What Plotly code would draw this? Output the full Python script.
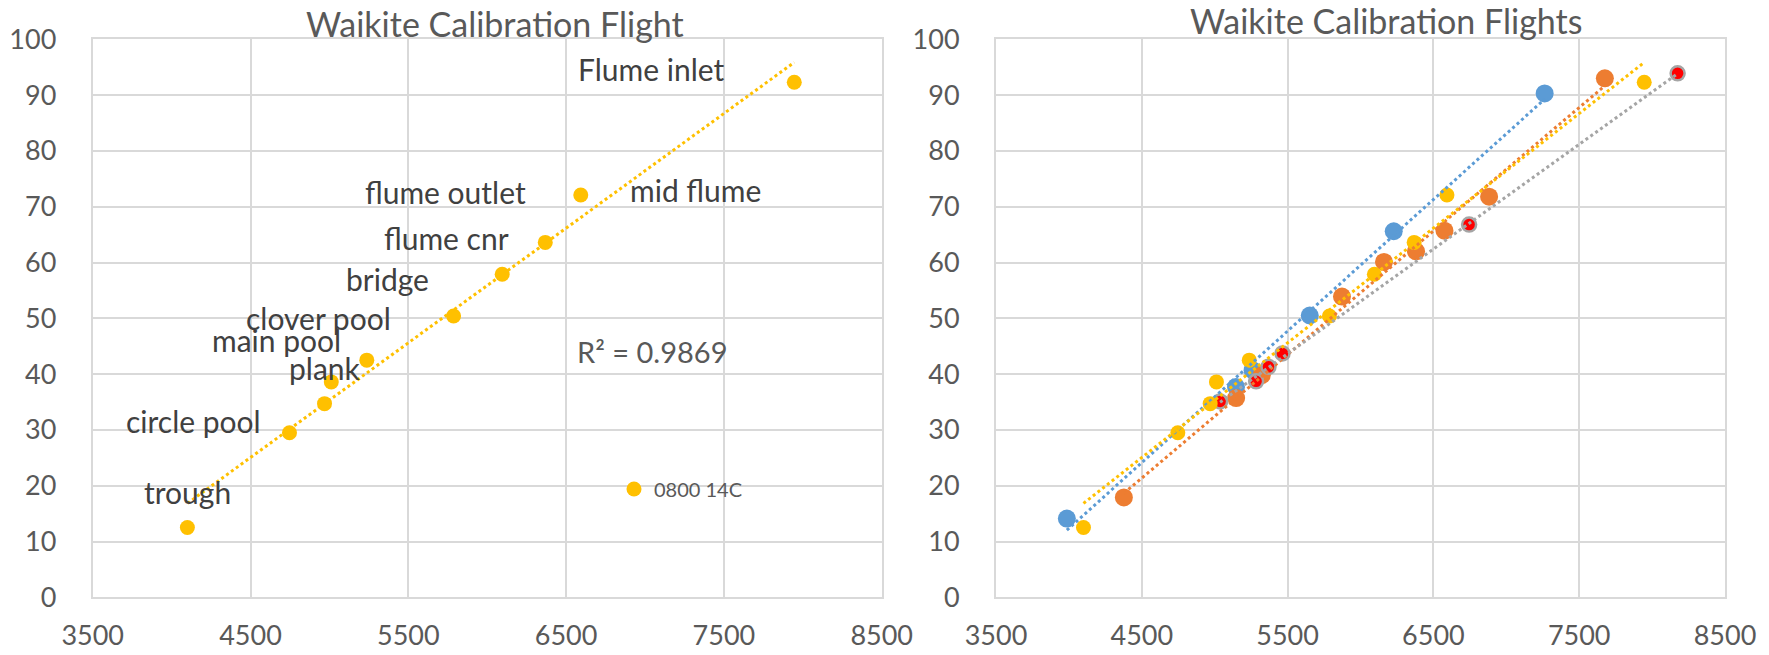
import numpy as np
import plotly.graph_objects as go

# ---------------- data ----------------
labels = ["trough", "circle pool", "plank", "main pool", "clover pool", "bridge",
          "flume cnr", "flume outlet", "mid flume", "Flume inlet"]
yellow_x = [4100, 4747, 4969, 5012, 5237, 5787, 6095, 6368, 6593, 7946]
yellow_y = [12.5, 29.5, 34.7, 38.6, 42.5, 50.4, 57.9, 63.6, 72.1, 92.3]

blue_x = [3986, 5146, 5260, 5652, 6228, 7263]
blue_y = [14.1, 37.7, 40.7, 50.5, 65.6, 90.3]

orange_x = [4377, 5147, 5323, 5873, 6161, 6381, 6576, 6882, 7676]
orange_y = [17.9, 35.7, 39.8, 53.9, 60.1, 62.0, 65.7, 71.8, 93.0]

red_x = [5037, 5284, 5369, 5465, 6745, 8175]
red_y = [35.1, 38.7, 41.3, 43.7, 66.8, 93.9]

legend_name = "0800 14C"
r2_text = "R² = 0.9869"
title_left = "Waikite Calibration Flight"
title_right = "Waikite Calibration Flights"
x_ticks = [3500, 4500, 5500, 6500, 7500, 8500]
y_ticks = [0, 10, 20, 30, 40, 50, 60, 70, 80, 90, 100]

# label offsets in pixels (layout only)
label_dx = [0, -96, 0, -55, -48, -66, -56, -100, 115, -143]
label_dy = [-36, -12, -36, -42, -42, -37, -36, -50, -5, -13]

YELLOW = "#FFC000"
BLUE = "#5B9BD5"
ORANGE = "#ED7D31"
GRAY = "#A5A5A5"
RED = "#FF0000"
TXT = "#595959"
FONT = "Lato"


def trend(xs, ys):
    k, b = np.polyfit(xs, ys, 1)
    xx = np.array([min(xs), max(xs)], dtype=float)
    return xx, k * xx + b


fig = go.Figure()

# ---- left chart ----
fig.add_trace(go.Scatter(x=yellow_x, y=yellow_y, mode="markers", name=legend_name,
                         marker=dict(color=YELLOW, size=15), xaxis="x", yaxis="y",
                         showlegend=True))
tx, ty = trend(yellow_x, yellow_y)
fig.add_trace(go.Scatter(x=tx, y=ty, mode="lines", line=dict(color=YELLOW, width=3, dash="3px,3px"),
                         xaxis="x", yaxis="y", showlegend=False, hoverinfo="skip"))

# ---- right chart ----
for xs, ys, col, sz, lc, lw in [
    (blue_x, blue_y, BLUE, 18, BLUE, 0),
    (orange_x, orange_y, ORANGE, 18, ORANGE, 0),
    (red_x, red_y, RED, 14, GRAY, 2.5),
    (yellow_x, yellow_y, YELLOW, 15, YELLOW, 0),
]:
    fig.add_trace(go.Scatter(x=xs, y=ys, mode="markers",
                             marker=dict(color=col, size=sz, line=dict(color=lc, width=lw)),
                             xaxis="x2", yaxis="y2", showlegend=False))
for xs, ys, col in [(blue_x, blue_y, BLUE), (orange_x, orange_y, ORANGE),
                    (red_x, red_y, GRAY), (yellow_x, yellow_y, YELLOW)]:
    tx, ty = trend(xs, ys)
    fig.add_trace(go.Scatter(x=tx, y=ty, mode="lines", line=dict(color=col, width=3, dash="3px,3px"),
                             xaxis="x2", yaxis="y2", showlegend=False, hoverinfo="skip"))

ax_common = dict(range=[3500, 8500], tickvals=x_ticks, showgrid=True, gridcolor="#D9D9D9",
                 gridwidth=2, zeroline=False, showline=True, linecolor="#D9D9D9", linewidth=2,
                 mirror=True, tickfont=dict(family=FONT, size=27, color=TXT),
                 ticklabelstandoff=13, automargin=False, fixedrange=True)
ay_common = dict(range=[0, 100], tickvals=y_ticks, showgrid=True, gridcolor="#D9D9D9",
                 gridwidth=2, zeroline=False, showline=True, linecolor="#D9D9D9", linewidth=2,
                 mirror=True, tickfont=dict(family=FONT, size=27, color=TXT),
                 ticklabelstandoff=29, automargin=False, fixedrange=True)

W, H = 1769, 655
yd = [1 - 597.3 / H, 1 - 39.3 / H]

annotations = []
for i, lab in enumerate(labels):
    annotations.append(dict(x=yellow_x[i], y=yellow_y[i], xref="x", yref="y", text=lab,
                            showarrow=False, xshift=label_dx[i], yshift=-label_dy[i],
                            xanchor="center", yanchor="middle",
                            font=dict(family=FONT, size=30, color="#404040")))
annotations.append(dict(x=652 / W, y=1 - 351 / H, xref="paper", yref="paper", text=r2_text,
                        showarrow=False, xanchor="center", yanchor="middle",
                        font=dict(family=FONT, size=29, color=TXT)))
annotations.append(dict(x=494.5 / W, y=1 - 24 / H, xref="paper", yref="paper", text=title_left,
                        showarrow=False, xanchor="center", yanchor="middle",
                        font=dict(family=FONT, size=34, color=TXT)))
annotations.append(dict(x=1386 / W, y=1 - 20 / H, xref="paper", yref="paper", text=title_right,
                        showarrow=False, xanchor="center", yanchor="middle",
                        font=dict(family=FONT, size=34, color=TXT)))

fig.update_layout(
    width=W, height=H, autosize=False,
    margin=dict(l=0, r=0, t=0, b=0),
    paper_bgcolor="white", plot_bgcolor="white",
    xaxis=dict(domain=[92.7 / W, 881.7 / W], anchor="y", **ax_common),
    yaxis=dict(domain=yd, anchor="x", **ay_common),
    xaxis2=dict(domain=[996 / W, 1725 / W], anchor="y2", **ax_common),
    yaxis2=dict(domain=yd, anchor="x2", **ay_common),
    annotations=annotations,
    showlegend=True,
    legend=dict(x=614 / W, y=1 - 489 / H, xanchor="left", yanchor="middle",
                bgcolor="rgba(0,0,0,0)", font=dict(family=FONT, size=20, color=TXT)),
)

fig.write_html("out.html", config={"displayModeBar": False},
               post_script="document.body.style.margin='0px';")
